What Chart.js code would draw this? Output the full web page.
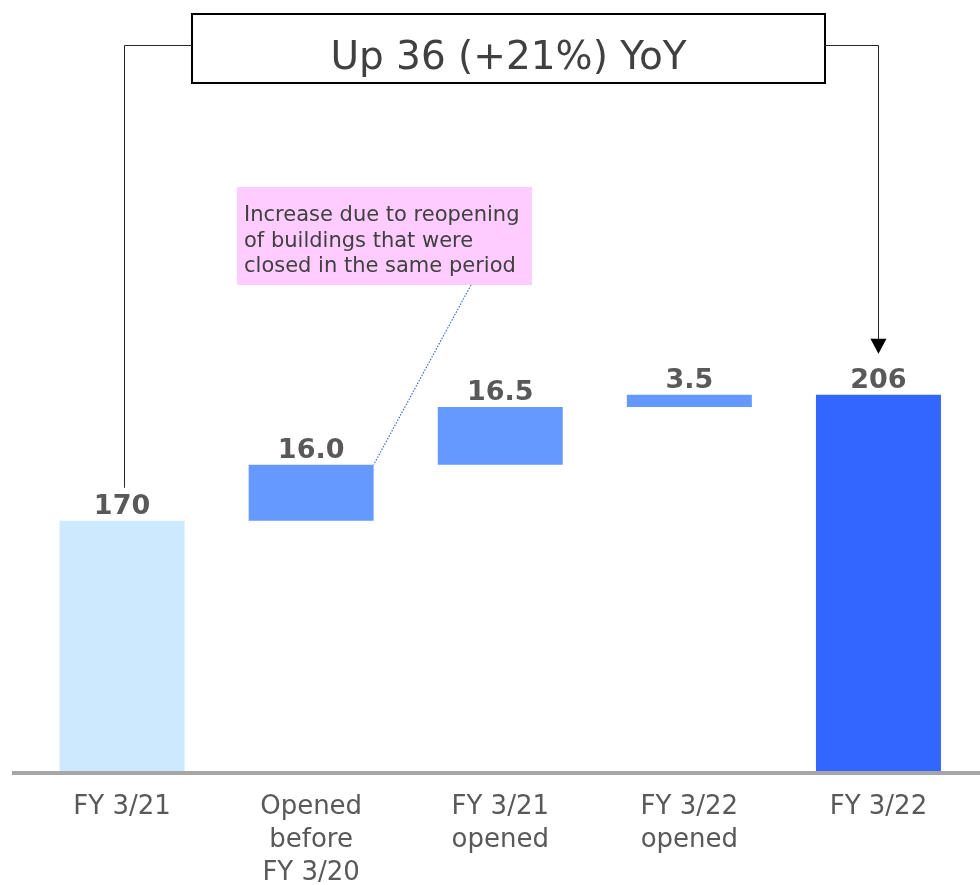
<!DOCTYPE html>
<html>
<head>
<meta charset="utf-8">
<script src="https://cdn.jsdelivr.net/npm/chart.js@4"></script>
<style>
    html, body { margin: 0; padding: 0; background: #ffffff; }
    #wrap { position: relative; width: 980px; height: 885px; }
</style>
</head>
<body>
<div id="wrap"><canvas id="chart"></canvas></div>
<script>
// Chart values
const categories = [
    ['FY 3/21'],
    ['Opened', 'before', 'FY 3/20'],
    ['FY 3/21', 'opened'],
    ['FY 3/22', 'opened'],
    ['FY 3/22']
];
const startTotal = 170;
const increments = [16.0, 16.5, 3.5];
const endTotal = 206;
const barColors = ['#cce9fd', '#6699ff', '#6699ff', '#6699ff', '#3366ff'];
const titleText = 'Up 36 (+21%) YoY';
const calloutLines = ['Increase due to reopening', 'of buildings that were', 'closed in the same period'];

const FONT = '"DejaVu Sans", Verdana, sans-serif';

// Build waterfall data: totals are plain values, steps are floating [from, to]
const barData = [startTotal];
const valueLabels = [String(startTotal)];
let running = startTotal;
increments.forEach(inc => {
    barData.push([running, running + inc]);
    valueLabels.push(inc.toFixed(1));
    running += inc;
});
barData.push(endTotal);
valueLabels.push(String(endTotal));

// Draws the baseline, value labels, YoY box with connectors and the callout
const decorations = {
    id: 'decorations',
    afterDatasetsDraw(chart) {
        const ctx = chart.ctx;
        const area = chart.chartArea;
        const bars = chart.getDatasetMeta(0).data;
        ctx.save();

        // thick grey baseline
        ctx.fillStyle = '#a6a6a6';
        ctx.fillRect(12, area.bottom, 968, 4);

        // value labels above bars
        ctx.fillStyle = '#595959';
        ctx.font = 'bold 27px ' + FONT;
        ctx.textAlign = 'center';
        ctx.textBaseline = 'alphabetic';
        bars.forEach((bar, i) => {
            const top = Math.min(bar.y, bar.base);
            ctx.fillText(valueLabels[i], bar.x, top - 7);
        });

        // YoY box
        const boxL = 192, boxR = 825, boxT = 14, boxB = 83, joinY = 45;
        ctx.strokeStyle = '#000000';
        ctx.lineWidth = 2;
        ctx.strokeRect(boxL, boxT, boxR - boxL, boxB - boxT);
        ctx.fillStyle = '#404040';
        ctx.font = '39px ' + FONT;
        ctx.fillText(titleText, (boxL + boxR) / 2, 69);

        // connectors
        const first = bars[0];
        const last = bars[bars.length - 1];
        ctx.lineWidth = 1;
        ctx.strokeStyle = '#262626';
        ctx.beginPath();
        ctx.moveTo(boxL, joinY + 0.5);
        ctx.lineTo(Math.round(first.x) + 2.5, joinY + 0.5);
        ctx.lineTo(Math.round(first.x) + 2.5, first.y - 33);
        ctx.stroke();

        const tipY = last.y - 41;
        ctx.beginPath();
        ctx.moveTo(boxR, joinY + 0.5);
        ctx.lineTo(Math.round(last.x) + 0.5, joinY + 0.5);
        ctx.lineTo(Math.round(last.x) + 0.5, tipY - 14);
        ctx.stroke();
        ctx.fillStyle = '#000000';
        ctx.beginPath();
        ctx.moveTo(last.x - 8, tipY - 15);
        ctx.lineTo(last.x + 8, tipY - 15);
        ctx.lineTo(last.x, tipY);
        ctx.closePath();
        ctx.fill();

        // callout box for the "opened before FY 3/20" bar
        const cL = 237, cT = 187, cW = 295, cH = 98;
        ctx.fillStyle = '#ffccff';
        ctx.fillRect(cL, cT, cW, cH);
        ctx.fillStyle = '#404040';
        ctx.font = '21px ' + FONT;
        ctx.textAlign = 'left';
        calloutLines.forEach((line, i) => {
            ctx.fillText(line, cL + 7, cT + 34 + i * 25.5);
        });

        // dotted leader line to top-right corner of the bar
        const target = bars[1];
        ctx.strokeStyle = '#3f6fd0';
        ctx.lineWidth = 1.2;
        ctx.setLineDash([1.5, 1.5]);
        ctx.beginPath();
        ctx.moveTo(471, cT + cH);
        ctx.lineTo(target.x + target.width / 2, Math.min(target.y, target.base));
        ctx.stroke();

        ctx.restore();
    }
};

new Chart(document.getElementById('chart'), {
    type: 'bar',
    data: {
        labels: categories,
        datasets: [{
            data: barData,
            backgroundColor: barColors,
            borderWidth: 0,
            barPercentage: 1,
            categoryPercentage: 0.661
        }]
    },
    options: {
        responsive: true,
        maintainAspectRatio: false,
        animation: false,
        devicePixelRatio: 1,
        layout: {
            padding: { top: 1, left: 27.5, right: 7, bottom: 0 }
        },
        plugins: {
            legend: { display: false },
            tooltip: { enabled: false },
            title: { display: false }
        },
        scales: {
            x: {
                grid: { display: false },
                border: { display: false },
                ticks: {
                    color: '#595959',
                    padding: 12,
                    maxRotation: 0,
                    autoSkip: false,
                    font: { family: FONT, size: 26, lineHeight: 1.27 }
                },
                afterFit: function (scale) {
                    scale.height = 114;
                }
            },
            y: {
                display: false,
                min: 98.5,
                max: 318.5
            }
        }
    },
    plugins: [decorations]
});
</script>
</body>
</html>
